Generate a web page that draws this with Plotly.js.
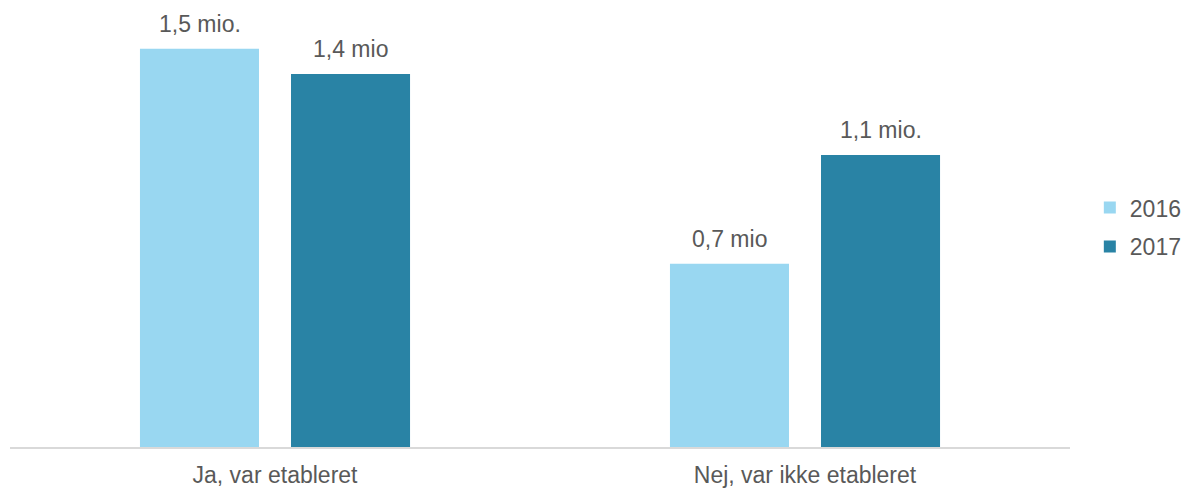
<!DOCTYPE html>
<html>
<head>
<meta charset="utf-8">
<script src="https://cdn.plot.ly/plotly-3.0.1.min.js"></script>
<style>html,body{margin:0;padding:0;background:#fff;}#chart{width:1184px;height:488px;}</style>
</head>
<body>
<div id="chart"></div>
<script>
const categories = ["Ja, var etableret", "Nej, var ikke etableret"];
const seriesNames = ["2016", "2017"];
const values2016 = [1.5, 0.69];
const values2017 = [1.405, 1.1];
const labels2016 = ["1,5 mio.", "0,7 mio"];
const labels2017 = ["1,4 mio", "1,1 mio."];
const colors = ["#99D7F1", "#2983A5"];

const font = {family: "Liberation Sans, Arial, sans-serif", size: 23, color: "#595959"};

const traces = [
  {type: "bar", name: seriesNames[0], x: categories, y: values2016, marker: {color: colors[0]}, hoverinfo: "skip", legendgroup: "a"},
  {type: "bar", name: seriesNames[1], x: categories, y: values2017, marker: {color: colors[1]}, hoverinfo: "skip", legendgroup: "b"}
];

const annotations = [];
const seriesVals = [values2016, values2017];
const seriesLabels = [labels2016, labels2017];
const offsets = [-75.5, 75.5];
for (let s = 0; s < 2; s++) {
  for (let c = 0; c < categories.length; c++) {
    annotations.push({
      x: categories[c], y: seriesVals[s][c], xref: "x", yref: "y",
      text: seriesLabels[s][c], showarrow: false,
      xshift: offsets[s], yshift: 10, yanchor: "bottom",
      font: font
    });
  }
}

const layout = {
  width: 1184, height: 488,
  margin: {l: 10, r: 114, t: 20, b: 41, pad: 0, autoexpand: false},
  paper_bgcolor: "#fff", plot_bgcolor: "#fff",
  font: font,
  bargap: 0.43, bargroupgap: 0.212,
  barmode: "group",
  showlegend: true,
  legend: {x: 1.0187, xanchor: "left", y: 0.515, yanchor: "middle", font: font, tracegroupgap: 6, traceorder: "grouped", bgcolor: "rgba(0,0,0,0)"},
  xaxis: {type: "category", showline: true, linecolor: "#d9d9d9", linewidth: 2, showgrid: false, zeroline: false, ticks: "", tickfont: font, ticklabelstandoff: 6},
  yaxis: {range: [0, 1.608], showgrid: false, zeroline: false, showticklabels: false, showline: false, ticks: ""},
  annotations: annotations
};

Plotly.newPlot("chart", traces, layout, {staticPlot: true, displayModeBar: false});
</script>
</body>
</html>
